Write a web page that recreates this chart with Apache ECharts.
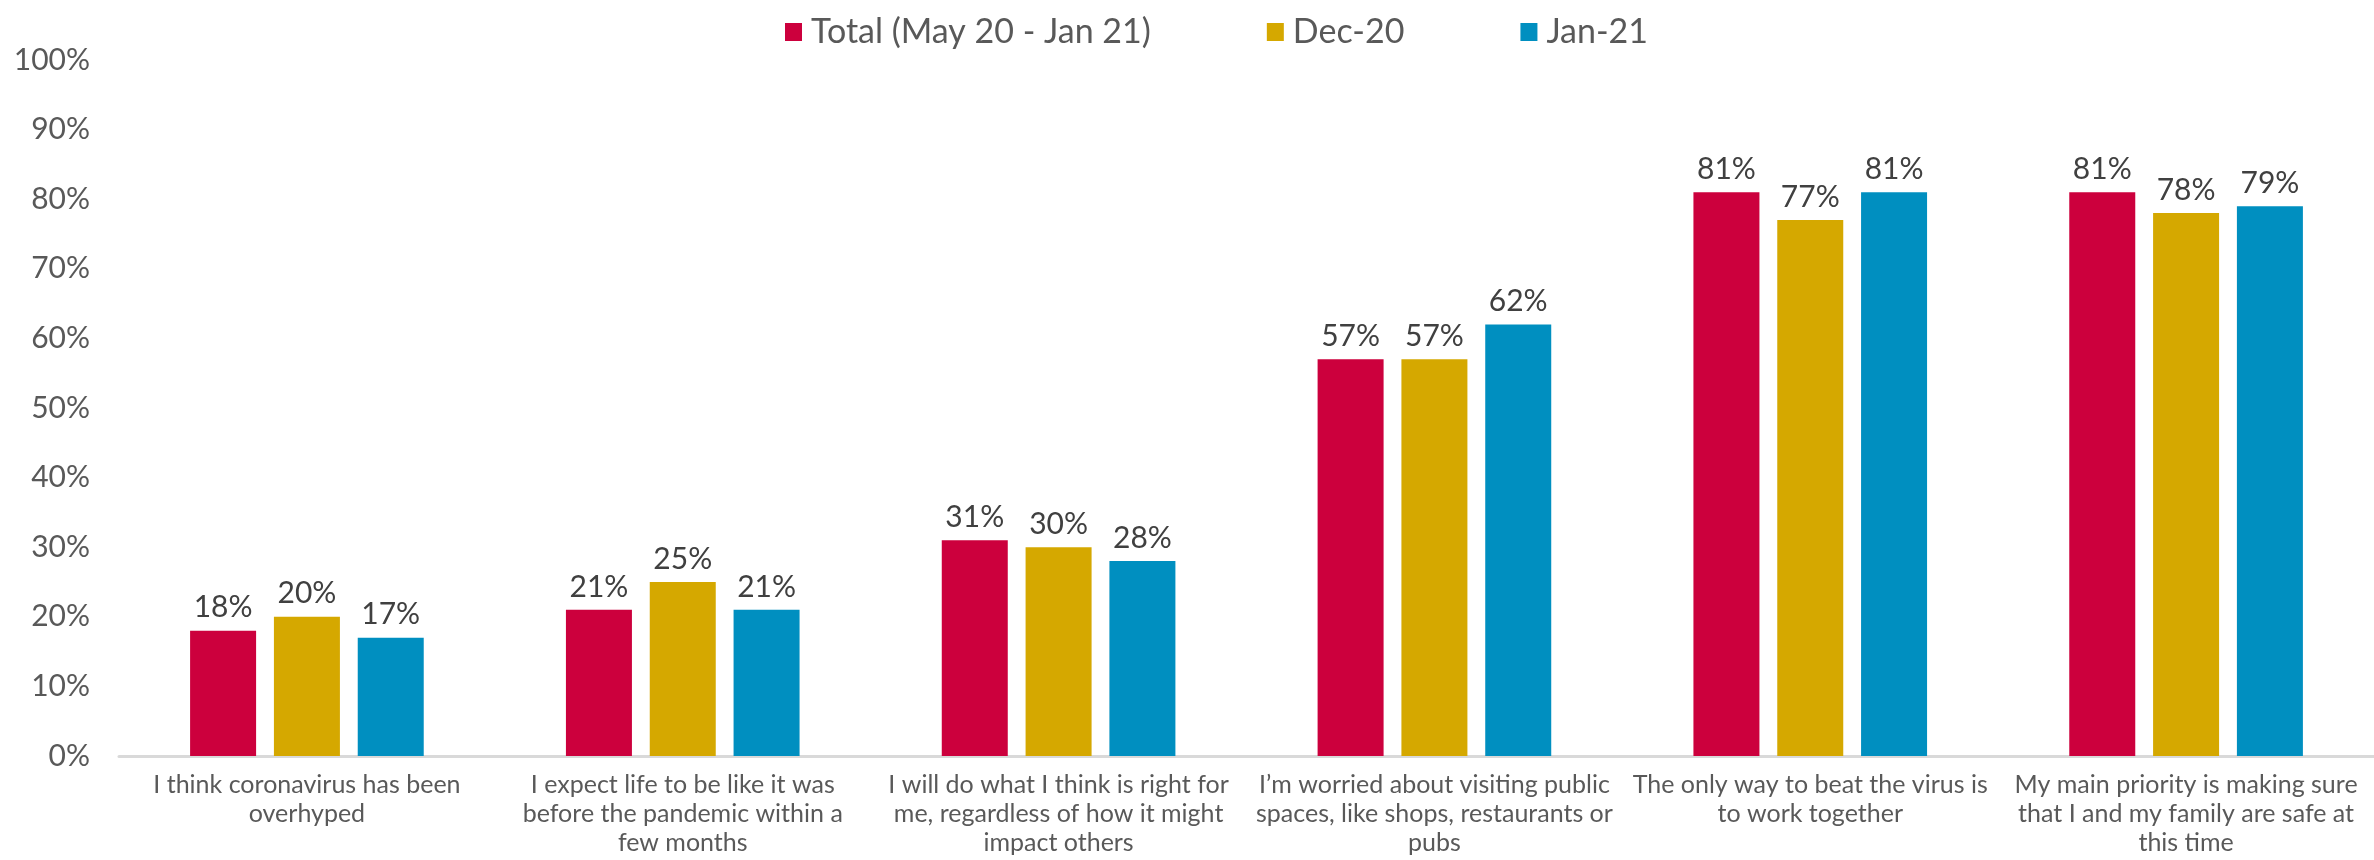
<!DOCTYPE html>
<html>
<head>
<meta charset="utf-8">
<script src="https://cdn.jsdelivr.net/npm/echarts@6/dist/echarts.min.js"></script>
<style>
  html, body { margin: 0; padding: 0; background: #ffffff; }
  #chart { width: 2374px; height: 860px; }
</style>
</head>
<body>
<div id="chart"></div>
<script>
// Statements shown along the x axis (line breaks as laid out under each group)
const categories = [
  'I think coronavirus has been\noverhyped',
  'I expect life to be like it was\nbefore the pandemic within a\nfew months',
  'I will do what I think is right for\nme, regardless of how it might\nimpact others',
  'I\u2019m worried about visiting public\nspaces, like shops, restaurants or\npubs',
  'The only way to beat the virus is\nto work together',
  'My main priority is making sure\nthat I and my family are safe at\nthis time'
];

const seriesNames = ['Total (May 20 - Jan 21)', 'Dec-20', 'Jan-21'];

// Share agreeing with each statement, in percent
const totalValues = [18, 21, 31, 57, 81, 81];
const dec20Values = [20, 25, 30, 57, 77, 78];
const jan21Values = [17, 21, 28, 62, 81, 79];

const yTicks = { min: 0, max: 100, interval: 10 };

const colors = ['#CC003D', '#D5A800', '#008FC0'];
const FONT = 'Lato, "Noto Sans", sans-serif';

const chart = echarts.init(document.getElementById('chart'), null, { renderer: 'canvas' });

function barSeries(name, values, color) {
  return {
    name: name,
    type: 'bar',
    data: values,
    barWidth: 66,
    barGap: '27%',
    itemStyle: { color: color },
    label: {
      show: true,
      position: 'top',
      distance: 8,
      formatter: '{c}%',
      color: '#404040',
      fontFamily: FONT,
      fontSize: 30
    }
  };
}

chart.setOption({
  animation: false,
  backgroundColor: '#ffffff',
  color: colors,
  textStyle: { fontFamily: FONT },
  legend: {
    top: 10,
    left: 780,
    itemWidth: 17,
    itemHeight: 18,
    itemGap: 116,
    icon: 'rect',
    textStyle: { color: '#595959', fontSize: 34, fontFamily: FONT, padding: [0, 0, 0, 4] },
    data: seriesNames
  },
  grid: { left: 119, right: 0, top: 60, bottom: 104, containLabel: false, outerBoundsMode: 'none' },
  xAxis: {
    type: 'category',
    data: categories,
    axisLine: { show: true, lineStyle: { color: '#D9D9D9', width: 3 } },
    axisTick: { show: false },
    axisLabel: {
      interval: 0,
      margin: 14,
      color: '#595959',
      fontSize: 25,
      lineHeight: 29,
      fontFamily: FONT,
      align: 'center'
    }
  },
  yAxis: {
    type: 'value',
    min: yTicks.min,
    max: yTicks.max,
    interval: yTicks.interval,
    axisLine: { show: false },
    axisTick: { show: false },
    splitLine: { show: false },
    axisLabel: {
      formatter: '{value}%',
      color: '#595959',
      fontSize: 30,
      fontFamily: FONT,
      margin: 29
    }
  },
  series: [
    barSeries(seriesNames[0], totalValues, colors[0]),
    barSeries(seriesNames[1], dec20Values, colors[1]),
    barSeries(seriesNames[2], jan21Values, colors[2])
  ]
});
</script>
</body>
</html>
